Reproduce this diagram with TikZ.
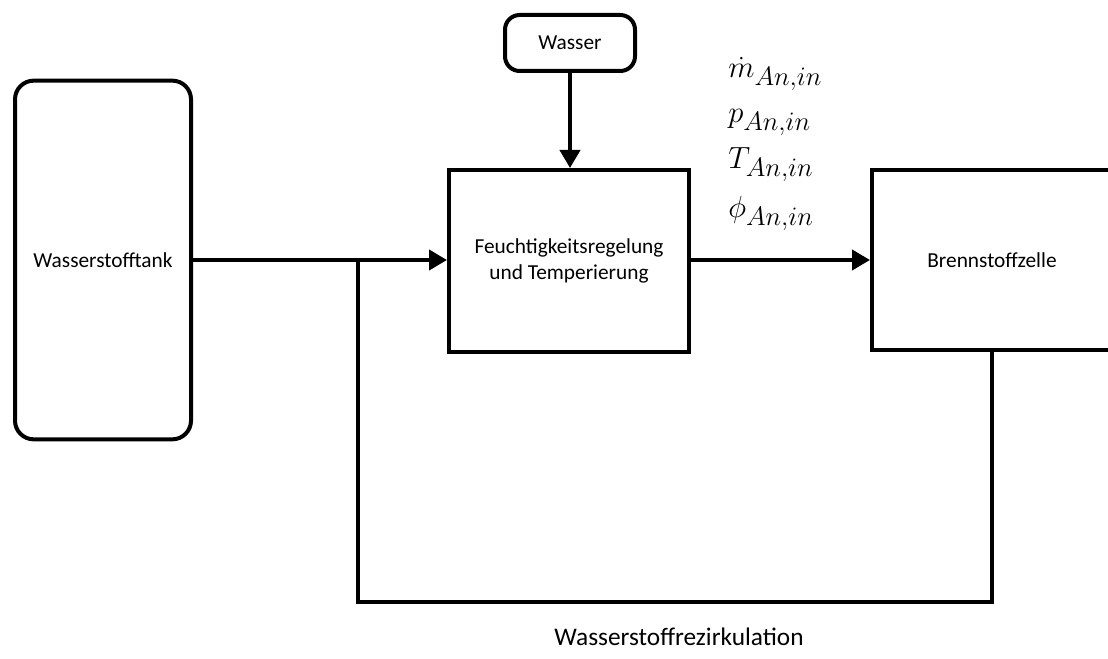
\RequirePackage{fix-cm}
\documentclass[tikz,border=0pt]{standalone}
\usepackage{fontspec}
\setmainfont{Carlito}
\usetikzlibrary{arrows.meta}
\DeclareMathSizes{23}{23}{20}{15}
\begin{document}
\begin{tikzpicture}[x=0.75pt,y=-0.75pt,
  box/.style={draw=black,line width=3pt,fill=white,inner sep=0pt,align=center,
    font=\fontsize{16}{18}\selectfont},
  rbox/.style={box,rounded corners=14pt},
  flow/.style={line width=3pt,-{Triangle[length=13.5pt,width=15pt]}},
  pipe/.style={line width=3pt},
  mathlbl/.style={anchor=base west,inner sep=0pt,font=\fontsize{23}{27}\selectfont}]
\clip (0,0) rectangle (1108,659);

% components
\node[rbox,minimum width=132pt,minimum height=269pt] (tank) at (103,260) {Wasserstofftank};
\node[box,rounded corners=11pt,minimum width=97.5pt,minimum height=42pt] (wasser) at (570,43) {Wasser};
\node[box,minimum width=180pt,minimum height=136.5pt] (feucht) at (569,261)
  {Feuchtigkeitsregelung\\[1pt]und Temperierung};
\node[box,minimum width=180pt,minimum height=135pt] (bz) at (992,260) {Brennstoffzelle};

% supply and humidification flow
\coordinate (junc) at (358,260);
\coordinate (loopL) at (358,602);
\coordinate (loopR) at (bz.south |- loopL);
\draw[flow] (tank.east |- junc) -- (feucht.west |- junc);
\draw[flow] (wasser.south) -- (wasser.south |- feucht.north);
\draw[flow] (feucht.east |- bz.west) -- (bz.west);

% recirculation loop
\draw[pipe] (bz.south) -- (loopR) -- (loopL) -- (junc);
\node[font=\fontsize{19}{22}\selectfont,inner sep=0pt] (rezi) at (679,637) {Wasserstoffrezirkulation};

% anode inlet state variables
\node[mathlbl] (mdot) at (728,78) {$\dot{m}_{An,in}$};
\node[mathlbl] (pin) at (728,123) {$p_{An,in}$};
\node[mathlbl] (tin) at (728,169) {$T_{An,in}$};
\node[mathlbl] (phin) at (728,218) {$\phi_{An,in}$};
\end{tikzpicture}
\end{document}
